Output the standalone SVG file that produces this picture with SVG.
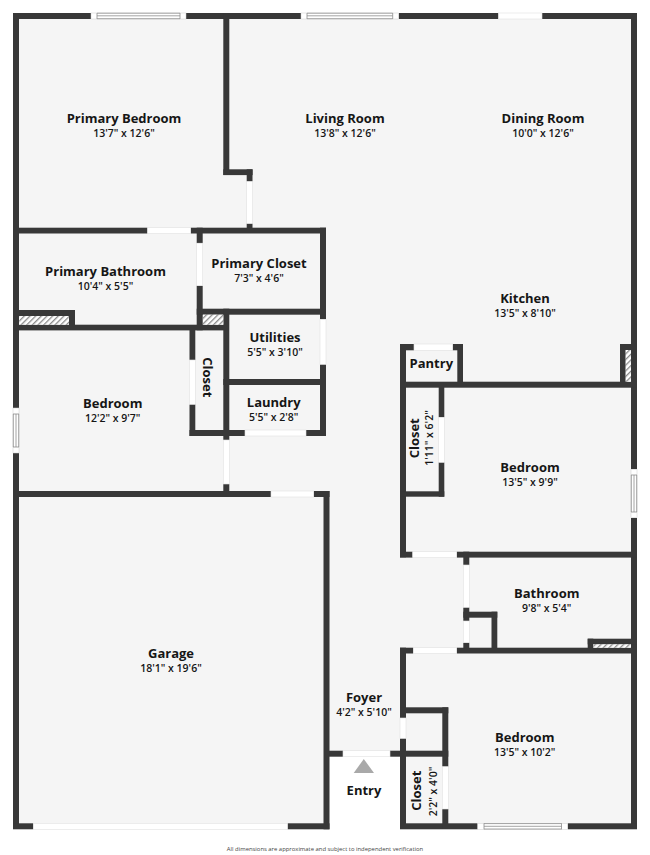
<svg xmlns="http://www.w3.org/2000/svg" width="650" height="855" viewBox="0 0 650 855">
<style>
.w{fill:#383838}
.d{fill:#fff;stroke:#e2e2e2;stroke-width:.6}
.wf{fill:#fff;stroke:#d0d0d0;stroke-width:.5}
.wl{fill:none;stroke:#8e8e8e;stroke-width:.8}
.h{fill:url(#hatch);stroke:none}
text{font-family:"Open Sans","Liberation Sans",sans-serif;fill:#161616;text-anchor:middle}
.n{font-size:13px;font-weight:700}
.s{font-size:10.500px;font-weight:600}
.f{font-size:5.900px;font-weight:400;fill:#444}
</style>
<defs>
<pattern id="hatch" width="4" height="4" patternUnits="userSpaceOnUse" patternTransform="rotate(45)">
<rect width="4" height="4" fill="#fff"/><rect width="1.300" height="4" fill="#8a8a8a"/>
</pattern>
</defs>
<g id="floor">
<path d="M13 13H637V829H400V752H329V829H13Z" fill="#f5f5f5"/>
</g>
<g id="walls">
<rect class="w" x="13" y="13" width="6" height="395"/>
<rect class="w" x="13" y="453" width="6" height="376"/>
<rect class="w" x="13" y="13" width="78" height="6"/>
<rect class="w" x="186" y="13" width="115" height="6"/>
<rect class="w" x="398.700" y="13" width="99.800" height="6"/>
<rect class="w" x="542" y="13" width="95" height="6"/>
<rect class="w" x="631" y="13" width="6" height="456"/>
<rect class="w" x="631" y="518" width="6" height="311"/>
<rect class="w" x="13" y="823.300" width="20.300" height="6"/>
<rect class="w" x="287.500" y="823.300" width="42" height="6"/>
<rect class="w" x="400" y="823.300" width="77.700" height="6"/>
<rect class="w" x="567.700" y="823.300" width="69.300" height="6"/>
<rect class="w" x="223.300" y="13" width="6" height="162"/>
<rect class="w" x="223.300" y="169.300" width="29.300" height="5.800"/>
<rect class="w" x="246.700" y="169.300" width="5.800" height="12.200"/>
<rect class="w" x="246.700" y="223.500" width="5.800" height="6"/>
<rect class="w" x="13" y="227.700" width="134.500" height="5.800"/>
<rect class="w" x="190.700" y="227.700" width="135.300" height="5.800"/>
<rect class="w" x="320" y="227.700" width="6" height="91.600"/>
<rect class="w" x="320" y="364.300" width="6" height="71.700"/>
<rect class="w" x="196.700" y="227.700" width="6" height="15.500"/>
<rect class="w" x="196.700" y="285.700" width="6" height="44.600"/>
<rect class="w" x="196.700" y="308.700" width="129.300" height="6"/>
<rect class="w" x="223.300" y="308.700" width="6" height="131.300"/>
<rect class="w" x="223.300" y="484" width="6" height="8"/>
<rect class="w" x="13" y="324.700" width="216" height="5.700"/>
<rect class="w" x="13" y="310" width="62" height="6"/>
<rect class="w" x="69" y="310" width="6" height="16"/>
<rect class="w" x="223.300" y="379" width="102.700" height="6"/>
<rect class="w" x="189.500" y="430" width="55.500" height="6"/>
<rect class="w" x="306" y="430" width="20" height="6"/>
<rect class="w" x="189.500" y="325" width="5.800" height="35"/>
<rect class="w" x="189.500" y="404.300" width="5.800" height="31.700"/>
<rect class="w" x="13" y="491" width="258" height="6"/>
<rect class="w" x="313.700" y="491" width="15.800" height="6"/>
<rect class="w" x="323.500" y="491" width="6" height="338.300"/>
<rect class="w" x="329" y="750.700" width="14" height="6"/>
<rect class="w" x="390" y="750.700" width="58.300" height="6"/>
<rect class="w" x="400" y="647.700" width="6" height="70.300"/>
<rect class="w" x="400" y="738.300" width="6" height="90.700"/>
<rect class="w" x="400" y="647.700" width="13.300" height="5.800"/>
<rect class="w" x="456.700" y="647.700" width="180.300" height="5.800"/>
<rect class="w" x="400" y="707.300" width="48.300" height="6"/>
<rect class="w" x="442.300" y="707.300" width="6" height="59.400"/>
<rect class="w" x="442.300" y="809" width="6" height="20"/>
<rect class="w" x="400" y="551.700" width="12.700" height="5.900"/>
<rect class="w" x="456.700" y="551.700" width="180.300" height="5.900"/>
<rect class="w" x="463.300" y="551.700" width="6" height="13.300"/>
<rect class="w" x="463.300" y="607.300" width="6" height="13.700"/>
<rect class="w" x="463.300" y="642.700" width="6" height="6"/>
<rect class="w" x="463.300" y="611.700" width="34" height="6"/>
<rect class="w" x="491.500" y="611.700" width="5.800" height="37"/>
<rect class="w" x="587.700" y="638.700" width="49.300" height="5.700"/>
<rect class="w" x="587.700" y="638.700" width="5.600" height="10"/>
<rect class="w" x="400" y="344" width="6" height="213.300"/>
<rect class="w" x="400" y="344" width="14" height="6.300"/>
<rect class="w" x="452.700" y="344" width="10.300" height="6.300"/>
<rect class="w" x="457.300" y="344" width="5.700" height="41"/>
<rect class="w" x="400" y="381.700" width="237" height="6"/>
<rect class="w" x="620" y="344" width="5.700" height="38"/>
<rect class="w" x="620" y="344" width="17" height="6"/>
<rect class="w" x="438.700" y="382" width="5.600" height="35.300"/>
<rect class="w" x="438.700" y="462.300" width="5.600" height="34.400"/>
<rect class="w" x="400" y="491.300" width="44.300" height="5.400"/>
</g>
<g id="hatches">
<rect class="h" x="19.300" y="316" width="49.700" height="8.700"/>
<rect class="h" x="203" y="314.700" width="20.300" height="10"/>
<rect class="h" x="625.700" y="350" width="5.300" height="31.700"/>
<rect class="h" x="593.300" y="644.400" width="37.700" height="3.300"/>
</g>
<g id="doors">
<rect class="d" x="498.500" y="13" width="43.500" height="6"/>
<rect class="d" x="246.700" y="181.500" width="5.800" height="42"/>
<rect class="d" x="147.500" y="227.700" width="43.200" height="5.800"/>
<rect class="d" x="196.700" y="243.200" width="6" height="42.500"/>
<rect class="d" x="320" y="319.300" width="6" height="45"/>
<rect class="d" x="189.500" y="360" width="5.800" height="44.300"/>
<rect class="d" x="245" y="430" width="61" height="6"/>
<rect class="d" x="223.300" y="440" width="6" height="44"/>
<rect class="d" x="271" y="491" width="42.700" height="6"/>
<rect class="d" x="33.300" y="823.300" width="254.200" height="6"/>
<rect class="d" x="343" y="750.700" width="47" height="6"/>
<rect class="d" x="400" y="718" width="6" height="20.300"/>
<rect class="d" x="442.300" y="766.700" width="6" height="42.300"/>
<rect class="d" x="413.300" y="647.700" width="43.400" height="5.800"/>
<rect class="d" x="412.700" y="551.700" width="44" height="5.900"/>
<rect class="d" x="463.300" y="565" width="6" height="42.300"/>
<rect class="d" x="463.300" y="621" width="6" height="21.700"/>
<rect class="d" x="414" y="344" width="38.700" height="6.300"/>
<rect class="d" x="438.700" y="417.300" width="5.600" height="45"/>
</g>
<g id="windows">
<rect class="wf" x="91" y="13" width="95" height="6"/>
<path class="wl" d="M97 13V19M180 13V19M97 13.200H180M97 15.800H180M97 18.700H180"/>
<rect class="wf" x="301" y="13" width="97.700" height="6"/>
<path class="wl" d="M307 13V19M392.700 13V19M307 13.200H392.700M307 15.800H392.700M307 18.700H392.700"/>
<rect class="wf" x="13" y="408" width="6" height="45"/>
<path class="wl" d="M13 414H19M13 447H19M13.300 414V447M16 414V447M18.700 414V447"/>
<rect class="wf" x="631" y="469.300" width="6" height="48.400"/>
<path class="wl" d="M631 475H637M631 512H637M631.300 475V512M634 475V512M636.700 475V512"/>
<rect class="wf" x="477.700" y="823.300" width="90" height="6"/>
<path class="wl" d="M484 823.300V829.300M561.500 823.300V829.300M484 823.600H561.500M484 826.300H561.500M484 829H561.500"/>
</g>
<g id="entry-marker"><path d="M363.800 759L374 773H353.700Z" fill="#a9a9a9"/></g>
<g id="room-primary-bedroom"><text class="n" x="124" y="122.500">Primary Bedroom</text><text class="s" x="124" y="136.500">13'7" x 12'6"</text></g>
<g id="room-living"><text class="n" x="345" y="122.500">Living Room</text><text class="s" x="345" y="136.500">13'8" x 12'6"</text></g>
<g id="room-dining"><text class="n" x="543" y="122.500">Dining Room</text><text class="s" x="543" y="136.500">10'0" x 12'6"</text></g>
<g id="room-primary-bathroom"><text class="n" x="105.500" y="276">Primary Bathroom</text><text class="s" x="105.500" y="290">10'4" x 5'5"</text></g>
<g id="room-primary-closet"><text class="n" x="259" y="268">Primary Closet</text><text class="s" x="259" y="282">7'3" x 4'6"</text></g>
<g id="room-utilities"><text class="n" x="275" y="341.500">Utilities</text><text class="s" x="275" y="355.500">5'5" x 3'10"</text></g>
<g id="room-laundry"><text class="n" x="273.700" y="406.500">Laundry</text><text class="s" x="273.700" y="420.500">5'5" x 2'8"</text></g>
<g id="room-bedroom-west"><text class="n" x="112.700" y="408">Bedroom</text><text class="s" x="112.700" y="422">12'2" x 9'7"</text></g>
<g id="room-closet-west"><text class="n" transform="translate(203 377.300) rotate(90)">Closet</text></g>
<g id="room-kitchen"><text class="n" x="525" y="302.500">Kitchen</text><text class="s" x="525" y="316.500">13'5" x 8'10"</text></g>
<g id="room-pantry"><text class="n" x="431.300" y="367.800">Pantry</text></g>
<g id="room-closet-east"><text class="n" transform="translate(419.300 438.300) rotate(-90)">Closet</text><text class="s" transform="translate(433.300 438) rotate(-90)">1'11" x 6'2"</text></g>
<g id="room-bedroom-east"><text class="n" x="530" y="472.300">Bedroom</text><text class="s" x="530" y="486.300">13'5" x 9'9"</text></g>
<g id="room-bathroom"><text class="n" x="546.700" y="598.300">Bathroom</text><text class="s" x="546.700" y="612.300">9'8" x 5'4"</text></g>
<g id="room-bedroom-south"><text class="n" x="524.700" y="741.700">Bedroom</text><text class="s" x="524.700" y="755.700">13'5" x 10'2"</text></g>
<g id="room-foyer"><text class="n" x="364" y="701.700">Foyer</text><text class="s" x="364" y="715.700">4'2" x 5'10"</text></g>
<g id="room-entry"><text class="n" x="364" y="794.800">Entry</text></g>
<g id="room-closet-south"><text class="n" transform="translate(420.700 790.700) rotate(-90)">Closet</text><text class="s" transform="translate(436.500 791.500) rotate(-90)">2'2" x 4'0"</text></g>
<g id="room-garage"><text class="n" x="171" y="657.500">Garage</text><text class="s" x="171" y="671.500">18'1" x 19'6"</text></g>
<text class="f" x="325" y="850.500">All dimensions are approximate and subject to independent verification</text>
</svg>
